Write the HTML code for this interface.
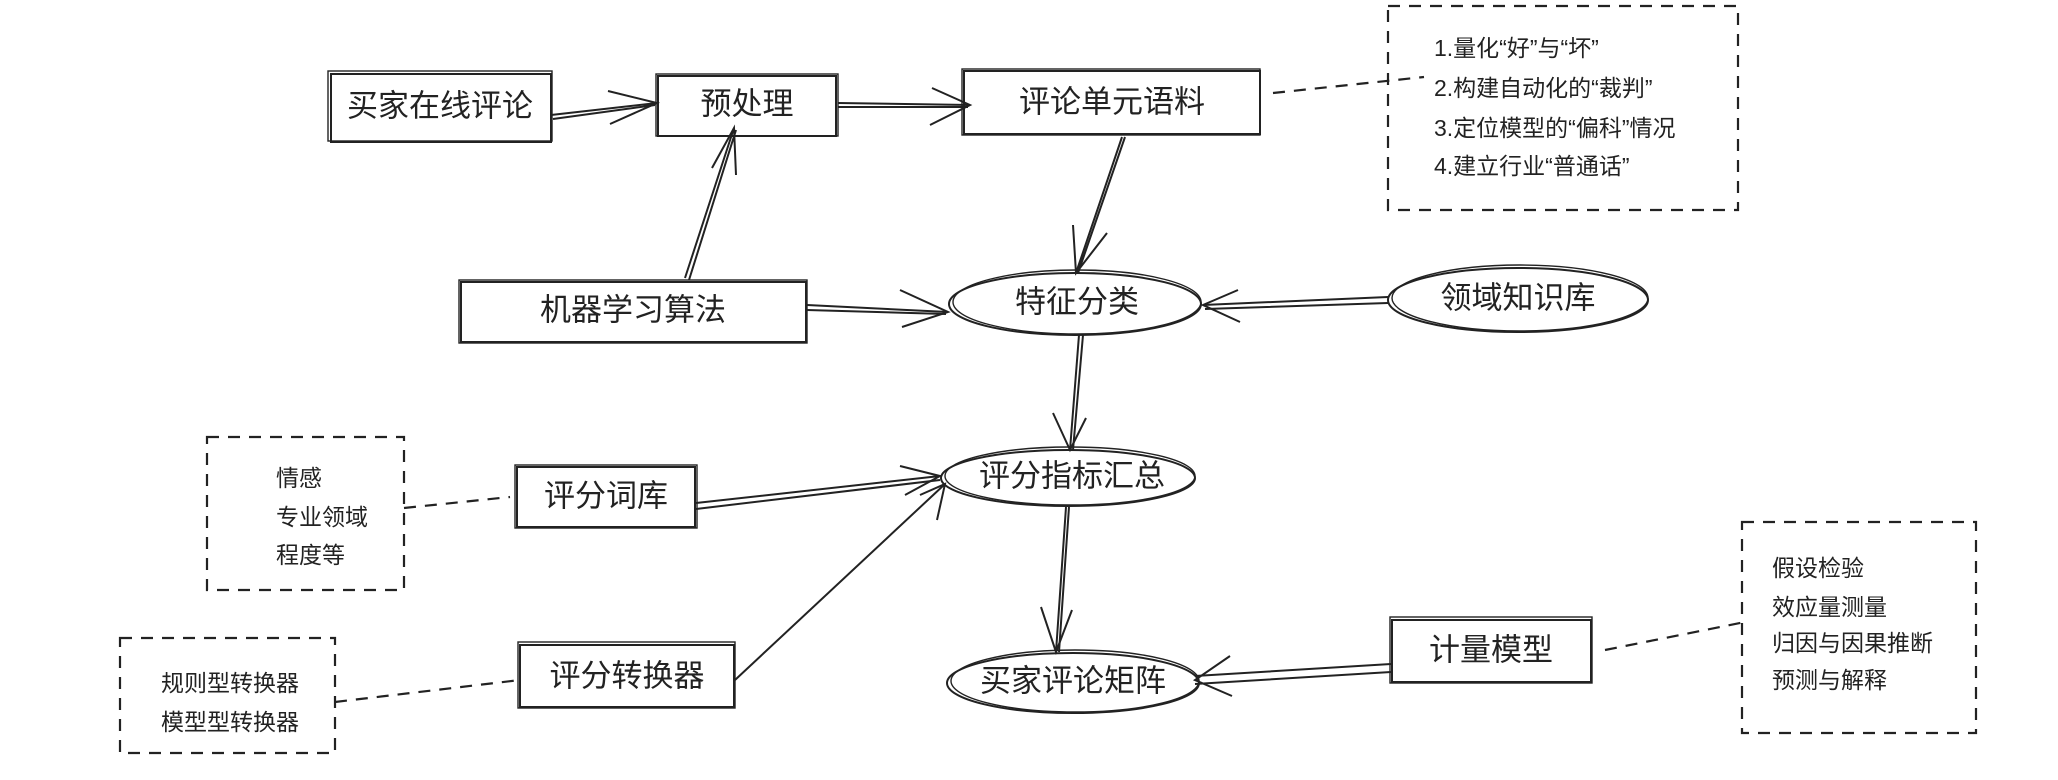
<!DOCTYPE html>
<html><head><meta charset="utf-8"><style>
html,body{margin:0;padding:0;background:#fff;}
svg{display:block;}
text{font-family:"Liberation Sans","Noto Sans CJK SC",sans-serif;fill:#222;}
.b{font-size:31px;text-anchor:middle;dominant-baseline:central;}
.n{font-size:23px;dominant-baseline:central;}
.s{fill:none;stroke:#222;stroke-width:2;}
.t{fill:none;stroke:#222;stroke-width:1.4;}
.d{fill:none;stroke:#222;stroke-width:2.2;stroke-dasharray:12 9;}
</style></head><body>
<svg width="2058" height="780" viewBox="0 0 2058 780" xmlns="http://www.w3.org/2000/svg">
<!-- boxes -->
<g class="s">
<rect x="331" y="74" width="220" height="68"/><rect x="328" y="71" width="224" height="70" class="t"/>
<rect x="658" y="76" width="178" height="60"/><rect x="656" y="74" width="182" height="62" class="t"/>
<rect x="964" y="71" width="296" height="63"/><rect x="962" y="69" width="298" height="66" class="t"/>
<rect x="461" y="282" width="345" height="60"/><rect x="459" y="280" width="348" height="63" class="t"/>
<rect x="517" y="467" width="178" height="60"/><rect x="515" y="465" width="182" height="63" class="t"/>
<rect x="520" y="645" width="214" height="62"/><rect x="518" y="642" width="217" height="66" class="t"/>
<rect x="1392" y="620" width="199" height="62"/><rect x="1390" y="617" width="202" height="66" class="t"/>
</g>
<!-- ellipses -->
<g class="s">
<ellipse cx="1075" cy="304" rx="126" ry="31"/><ellipse cx="1077" cy="302" rx="124" ry="32" class="t"/>
<ellipse cx="1518" cy="300" rx="130" ry="32"/><ellipse cx="1520" cy="298" rx="128" ry="33" class="t"/>
<ellipse cx="1068" cy="478" rx="127" ry="28"/><ellipse cx="1070" cy="476" rx="125" ry="29" class="t"/>
<ellipse cx="1073" cy="683" rx="126" ry="30"/><ellipse cx="1075" cy="681" rx="124" ry="31" class="t"/>
</g>
<!-- dashed notes -->
<g class="d">
<rect x="1388" y="6" width="350" height="204"/>
<rect x="207" y="437" width="197" height="153"/>
<rect x="120" y="638" width="215" height="115"/>
<rect x="1742" y="522" width="234" height="211"/>
<line x1="1273" y1="93" x2="1424" y2="77"/>
<line x1="404" y1="508" x2="510" y2="497"/>
<line x1="335" y1="702" x2="520" y2="680"/>
<line x1="1605" y1="650" x2="1745" y2="622"/>
</g>
<!-- connectors -->
<g class="s">
<path d="M551 115 L657 103 M553 119 L655 105"/>
<path d="M608 91 L657 103 L610 124"/>
<path d="M685 278 L734 128 M689 280 L736 130"/>
<path d="M712 168 L734 128 L736 175"/>
<path d="M838 103 L970 105 M838 107 L968 107"/>
<path d="M932 88 L970 105 L930 125"/>
<path d="M807 305 L948 312 M807 310 L946 314"/>
<path d="M900 290 L948 312 L902 327"/>
<path d="M1122 137 L1076 273 M1125 137 L1078 273"/>
<path d="M1073 225 L1076 273 L1107 233"/>
<path d="M1388 297 L1203 305 M1388 303 L1205 309"/>
<path d="M1238 290 L1203 305 L1240 322"/>
<path d="M1079 335 L1070 450 M1083 335 L1073 450"/>
<path d="M1053 413 L1070 450 L1086 418"/>
<path d="M696 503 L940 476 M696 509 L940 480"/>
<path d="M900 466 L940 476 L905 495"/>
<path d="M735 680 L945 484"/>
<path d="M920 495 L945 484 L937 520"/>
<path d="M1066 507 L1056 652 M1069 507 L1059 652"/>
<path d="M1041 607 L1056 652 L1072 610"/>
<path d="M1391 664 L1195 676 M1391 672 L1195 684"/>
<path d="M1230 656 L1195 680 L1232 696"/>
</g>
<!-- labels -->
<g class="b">
<text x="440" y="106">买家在线评论</text>
<text x="747" y="104">预处理</text>
<text x="1112" y="102">评论单元语料</text>
<text x="633" y="310">机器学习算法</text>
<text x="1077" y="302">特征分类</text>
<text x="1518" y="298">领域知识库</text>
<text x="1072" y="476">评分指标汇总</text>
<text x="606" y="496">评分词库</text>
<text x="627" y="676">评分转换器</text>
<text x="1073" y="681">买家评论矩阵</text>
<text x="1491" y="650">计量模型</text>
</g>
<g class="n">
<text x="1434" y="48">1.量化“好”与“坏”</text>
<text x="1434" y="88">2.构建自动化的“裁判”</text>
<text x="1434" y="128">3.定位模型的“偏科”情况</text>
<text x="1434" y="166">4.建立行业“普通话”</text>
<text x="276" y="478">情感</text>
<text x="276" y="517">专业领域</text>
<text x="276" y="555">程度等</text>
<text x="161" y="683">规则型转换器</text>
<text x="161" y="722">模型型转换器</text>
<text x="1772" y="568">假设检验</text>
<text x="1772" y="607">效应量测量</text>
<text x="1772" y="643">归因与因果推断</text>
<text x="1772" y="680">预测与解释</text>
</g>
</svg>
</body></html>
